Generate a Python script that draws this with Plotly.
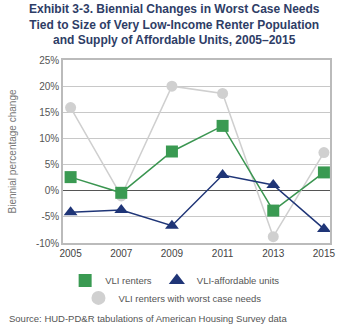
import plotly.graph_objects as go

years = [2005, 2007, 2009, 2011, 2013, 2015]
vli_renters = [2.6, -0.4, 7.5, 12.4, -3.8, 3.5]
vli_affordable = [-4.1, -3.7, -6.7, 3.0, 1.1, -7.3]
vli_worst_case = [15.9, -1.0, 20.0, 18.6, -8.8, 7.3]
y_ticks = [-10, -5, 0, 5, 10, 15, 20, 25]
y_tick_labels = ["-10%", "-5%", "0%", "5%", "10%", "15%", "20%", "25%"]

FONT = "Liberation Sans, Arial, sans-serif"
GRAY, GREEN, NAVY = "#d0d0d0", "#3a9a52", "#1f3577"
fig = go.Figure()
fig.add_trace(go.Scatter(x=years, y=vli_worst_case, mode="lines+markers", showlegend=False,
                         line=dict(color="#cfcfcf", width=1.5),
                         marker=dict(symbol="circle", size=11, color=GRAY)))
fig.add_trace(go.Scatter(x=years, y=vli_renters, mode="lines+markers", showlegend=False,
                         line=dict(color="#3a9550", width=1.5),
                         marker=dict(symbol="square", size=12, color=GREEN)))
fig.add_trace(go.Scatter(x=years, y=vli_affordable, mode="lines+markers", showlegend=False,
                         line=dict(color=NAVY, width=1.5),
                         marker=dict(symbol="triangle-up", size=12, color=NAVY)))
# legend-only entries (markers only, like the reference)
fig.add_trace(go.Scatter(x=[None], y=[None], mode="markers", name="VLI renters",
                         marker=dict(symbol="square", size=13, color=GREEN), legend="legend"))
fig.add_trace(go.Scatter(x=[None], y=[None], mode="markers", name="VLI-affordable units",
                         marker=dict(symbol="triangle-up", size=14, color=NAVY), legend="legend"))
fig.add_trace(go.Scatter(x=[None], y=[None], mode="markers", name="VLI renters with worst case needs",
                         marker=dict(symbol="circle", size=14, color=GRAY), legend="legend2"))

fig.update_layout(
    width=351, height=332, margin=dict(l=63, r=21, t=60, b=89),
    paper_bgcolor="white", plot_bgcolor="white",
    font=dict(family=FONT, size=10, color="#555555"),
    xaxis=dict(range=[2004.7, 2015.24], tickvals=years, ticktext=[str(y) for y in years],
               showgrid=False, zeroline=False, showline=True, linecolor="#bbbbbb", linewidth=1.5, mirror=True,
               tickfont=dict(size=10, color="#444444"), ticks=""),
    yaxis=dict(range=[-10, 25], tickvals=y_ticks, ticktext=y_tick_labels,
               showgrid=True, gridcolor="#c8c8c8", gridwidth=1,
               zeroline=True, zerolinecolor="#555555", zerolinewidth=1.2,
               showline=True, linecolor="#bbbbbb", linewidth=1.5, mirror=True,
               ticks="", tickfont=dict(size=10, color="#555555"),
               title=dict(text="Biennial percentage change", font=dict(size=10, color="#777777"), standoff=17)),
    legend=dict(orientation="h", x=0.42, xanchor="center", y=-0.205, yanchor="middle",
                font=dict(size=9.5, color="#555555"), traceorder="normal", itemwidth=30,
                bgcolor="rgba(0,0,0,0)"),
    legend2=dict(orientation="h", x=0.41, xanchor="center", y=-0.30, yanchor="middle",
                 font=dict(size=9.5, color="#555555"), itemwidth=30, bgcolor="rgba(0,0,0,0)"),
    showlegend=True,
)
fig.add_annotation(text="<b>Exhibit 3-3. Biennial Changes in Worst Case Needs<br>Tied to Size of Very Low-Income Renter Population<br>and Supply of Affordable Units, 2005\u20132015</b>",
                   xref="paper", yref="paper", x=(174 - 63) / 267, y=(243 - 24) / 183, xanchor="center", yanchor="middle",
                   showarrow=False, font=dict(family=FONT, size=12, color="#2e3d66"), align="center")
fig.add_annotation(text="Source: HUD-PD&R tabulations of American Housing Survey data",
                   xref="paper", yref="paper", x=(7 - 63) / 267, y=(243 - 318) / 183, xanchor="left", yanchor="middle",
                   showarrow=False, font=dict(family=FONT, size=9.5, color="#555555"))
fig.write_html("out.html")
